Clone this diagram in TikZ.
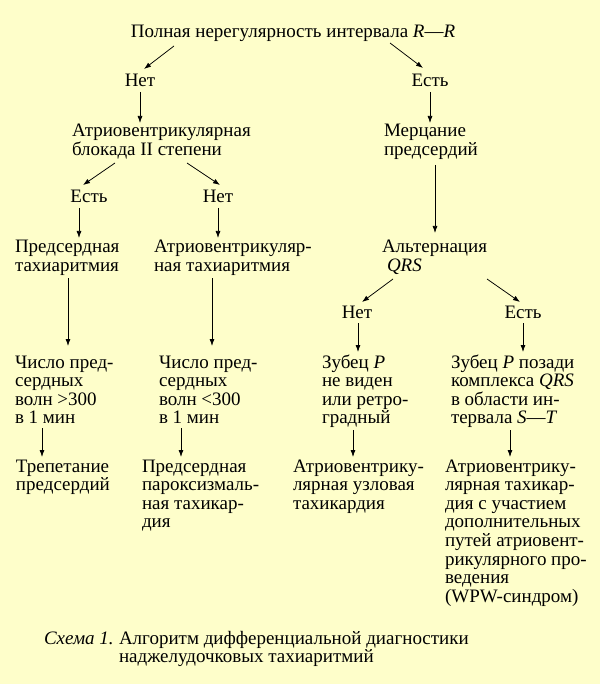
\documentclass[tikz,border=0pt]{standalone}
\usepackage{fontspec}
\setmainfont{Liberation Serif}
\usetikzlibrary{arrows.meta,calc}
\definecolor{bgcol}{RGB}{254,254,202}
\newcommand\topstr{\rule{0pt}{14pt}}
\begin{document}
\begin{tikzpicture}[x=1pt,y=-1pt,
  every node/.style={inner sep=0pt, outer sep=0pt, font=\fontsize{19}{18.6}\selectfont},
  txt/.style={anchor=north west, align=left},
  lbl/.style={anchor=base},
  arr/.style={-{Latex[length=7pt,width=5pt]}, line width=0.75pt}]
\fill[bgcol] (0,0) rectangle (600,684);
\useasboundingbox (0,0) rectangle (600,684);
% top level
\node[lbl] (title) at (293,38) {Полная нерегулярность интервала \textit{R}—\textit{R}};
\node[lbl] (net1) at (140,87) {Нет};
\node[lbl] (est1) at (430,87) {Есть};
\node[txt] (atrio) at (72,123) {\topstr Атриовентрикулярная\\блокада II степени};
\node[txt] (merc) at (384,123) {\topstr Мерцание\\предсердий};
\node[lbl] (est2) at (89,203) {Есть};
\node[lbl] (net2) at (218,203) {Нет};
\node[txt] (pred) at (15,239) {\topstr Предсердная\\тахиаритмия};
\node[txt] (atr2) at (154,239) {\topstr Атриовентрикуляр-\\ная тахиаритмия};
\node[txt] (alt) at (382,239) {\topstr Альтернация\\\hspace*{5pt}\textit{QRS}};
\node[lbl] (net3) at (357,318) {Нет};
\node[lbl] (est3) at (523,318) {Есть};
\node[txt] (ch1) at (15,354) {\topstr Число пред-\\сердных\\волн >300\\в 1 мин};
\node[txt] (ch2) at (159,354) {\topstr Число пред-\\сердных\\волн <300\\в 1 мин};
\node[txt] (zub1) at (322,354) {\topstr Зубец \textit{P}\\не виден\\или ретро-\\градный};
\node[txt] (zub2) at (451,354) {\topstr Зубец \textit{P} позади\\комплекса \textit{QRS}\\в области ин-\\тервала \textit{S}—\textit{T}};
\node[txt] (trep) at (16,458) {\topstr Трепетание\\предсердий};
\node[txt] (pred2) at (142,458) {\topstr Предсердная\\пароксизмаль-\\ная тахикар-\\дия};
\node[txt] (atr3) at (293,458) {\topstr Атриовентрику-\\лярная узловая\\тахикардия};
\node[txt] (atr4) at (445,458) {\topstr Атриовентрику-\\лярная тахикар-\\дия с участием\\дополнительных\\путей атриовент-\\рикулярного про-\\ведения\\(WPW-синдром)};
\node[anchor=base west] (schema) at (44,644) {\textit{Схема 1.}};
\node[txt] (capt) at (119,630) {\topstr Алгоритм дифференциальной диагностики\\наджелудочковых тахиаритмий};
% connectors
\draw[arr] ($(title.base)+(-119,8)$) -- ($(net1.base)+(4,-18)$);
\draw[arr] ($(title.base)+(97,5)$) -- ($(est1.base)+(-7,-19)$);
\draw[arr] ($(net1.base)+(0,5)$) -- ($(net1.base)+(0,36)$);
\draw[arr] ($(est1.base)+(0,5)$) -- ($(est1.base)+(0,36)$);
\draw[arr] ($(atrio.north west)+(43,40)$) -- ($(est2.base)+(-6,-18)$);
\draw[arr] ($(atrio.north west)+(115,40)$) -- ($(net2.base)+(2,-18)$);
\draw[arr] ($(est2.base)+(-10,5)$) -- ($(est2.base)+(-10,35)$);
\draw[arr] ($(net2.base)+(0,5)$) -- ($(net2.base)+(0,35)$);
\draw[arr] ($(merc.north west)+(51,42)$) -- ($(merc.north west)+(51,110)$);
\draw[arr] ($(pred.north west)+(53,39)$) -- ($(pred.north west)+(53,107)$);
\draw[arr] ($(atr2.north west)+(58,39)$) -- ($(atr2.north west)+(58,107)$);
\draw[arr] ($(alt.north west)+(11,40)$) -- ($(net3.base)+(5,-16)$);
\draw[arr] ($(alt.north west)+(105,40)$) -- ($(est3.base)+(-3,-16)$);
\draw[arr] ($(net3.base)+(1,5)$) -- ($(net3.base)+(1,34)$);
\draw[arr] ($(est3.base)+(0,5)$) -- ($(est3.base)+(0,34)$);
\draw[arr] ($(ch1.north west)+(27,74)$) -- ($(ch1.north west)+(27,103)$);
\draw[arr] ($(ch2.north west)+(22,74)$) -- ($(ch2.north west)+(22,103)$);
\draw[arr] ($(zub1.north west)+(31,76)$) -- ($(zub1.north west)+(31,103)$);
\draw[arr] ($(zub2.north west)+(59,76)$) -- ($(zub2.north west)+(59,103)$);
\end{tikzpicture}
\end{document}
